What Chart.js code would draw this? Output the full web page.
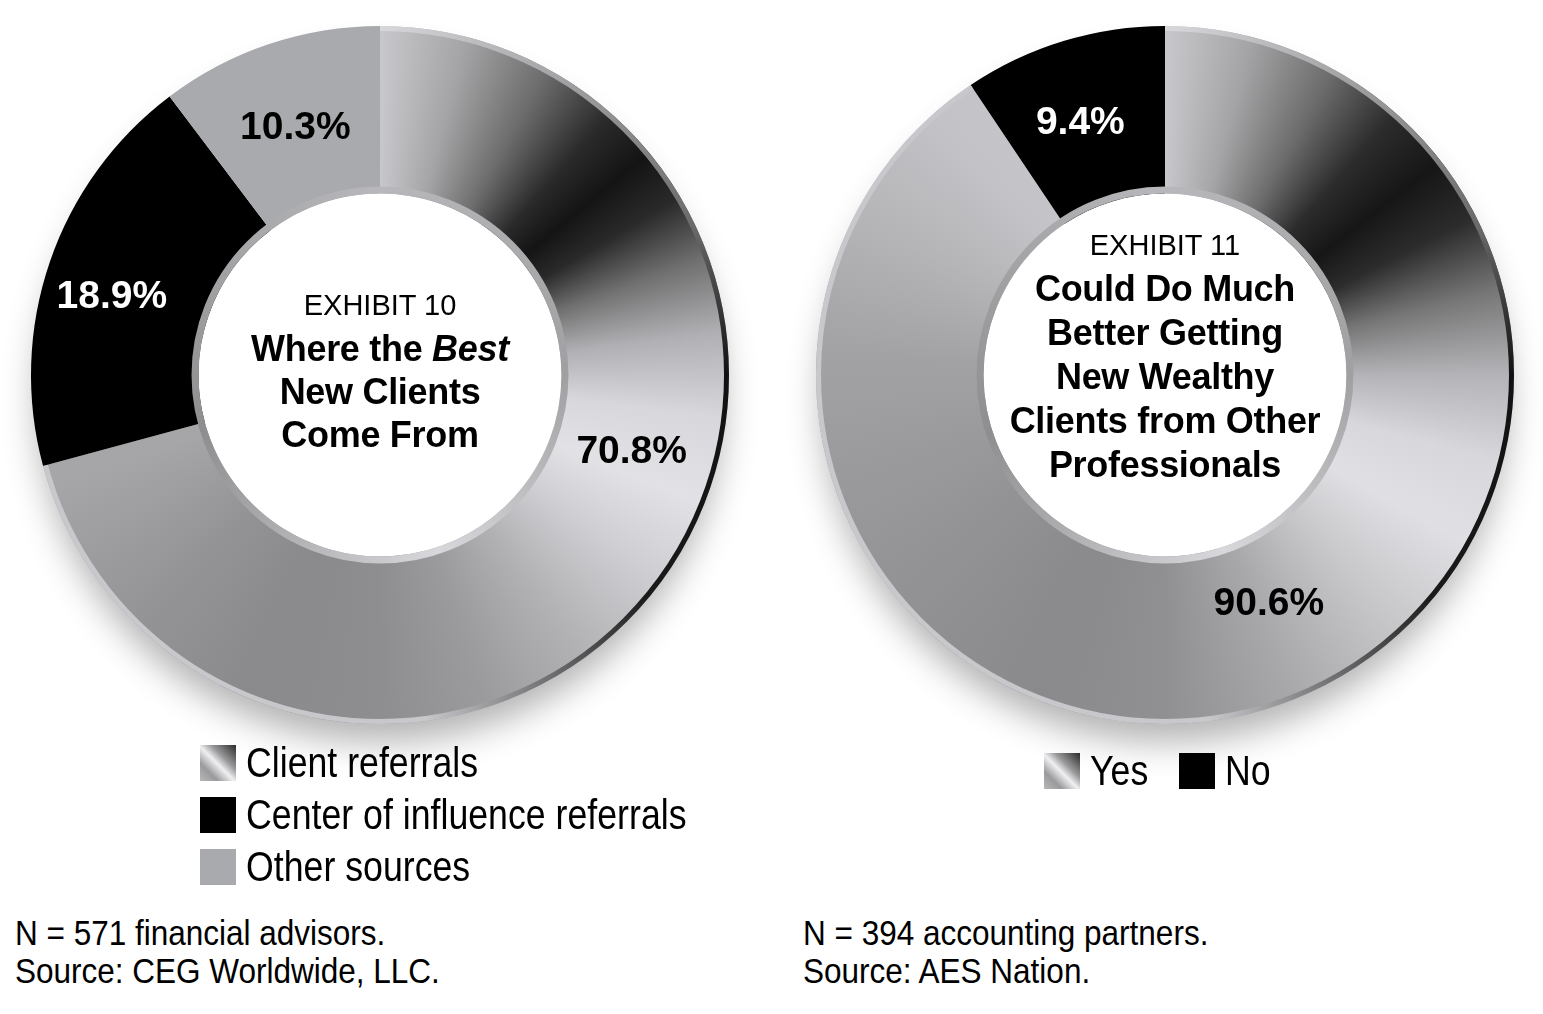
<!DOCTYPE html>
<html lang="en">
<head>
<meta charset="UTF-8" />
<title>Exhibits 10 and 11</title>
<script src="https://cdn.jsdelivr.net/npm/chart.js"></script>
<style>
    body {
        margin: 0;
        background: #fff;
        font-family: "Liberation Sans", Arial, sans-serif;
    }
    .page {
        position: relative;
        width: 1543px;
        height: 1014px;
        overflow: hidden;
    }
    .chartbox {
        position: absolute;
        top: 0;
        width: 760px;
        height: 780px;
    }
    .center-text {
        position: absolute;
        text-align: center;
        color: #000;
        line-height: 43px;
    }
    .center-text .exh {
        font-size: 29px;
        font-weight: 400;
    }
    .center-text .ttl {
        font-size: 36px;
        font-weight: 700;
        letter-spacing: -0.3px;
    }
    /* no narrow face installed, so squeeze the regular one */
    .sq {
        display: inline-block;
        transform-origin: 0 50%;
        white-space: nowrap;
    }
    .legend {
        position: absolute;
        font-size: 42px;
    }
    .legend .sq { transform: scaleX(0.85); }
    .legend .row {
        display: flex;
        align-items: center;
        height: 52px;
    }
    .swatch {
        width: 36px;
        height: 36px;
        margin-right: 10px;
        flex: none;
    }
    .note {
        position: absolute;
        top: 914px;
        font-size: 35px;
        line-height: 38px;
    }
    .note .sq { transform: scaleX(0.9); }
</style>
</head>
<body>
<div class="page">
    <div class="chartbox" style="left:0"><canvas id="chartLeft" width="760" height="780"></canvas></div>
    <div class="chartbox" style="left:785px"><canvas id="chartRight" width="760" height="780"></canvas></div>

    <div class="center-text" style="left:200px; top:284px; width:360px">
        <div class="exh">EXHIBIT 10</div>
        <div class="ttl">Where the <i>Best</i><br>New Clients<br>Come From</div>
    </div>
    <div class="center-text" style="left:970px; top:223px; width:390px; line-height:44px">
        <div class="exh">EXHIBIT 11</div>
        <div class="ttl">Could Do Much<br>Better Getting<br>New Wealthy<br>Clients from Other<br>Professionals</div>
    </div>

    <div id="legendLeft" class="legend" style="left:200px; top:737px"></div>
    <div id="legendRight" class="legend" style="left:1044px; top:745px; display:flex"></div>

    <div class="note" style="left:15px"><span class="sq">N = 571 financial advisors.</span><br><span class="sq">Source: CEG Worldwide, LLC.</span></div>
    <div class="note" style="left:803px"><span class="sq">N = 394 accounting partners.</span><br><span class="sq">Source: AES Nation.</span></div>
</div>

<script>
    // Exhibit 10
    const leftLabels = ['Client referrals', 'Center of influence referrals', 'Other sources'];
    const leftValues = [70.8, 18.9, 10.3];

    // Exhibit 11
    const rightLabels = ['Yes', 'No'];
    const rightValues = [90.6, 9.4];

    const metalSwatch = 'linear-gradient(225deg, #2a2a2a 0%, #9a9a9c 35%, #f0f0f2 52%, #9a9a9c 75%, #b8b8bb 100%)';

    // brushed metal look for the big slice
    const leftMetal = [
        [0, '#c8c8cc'], [0.04, '#a4a4a6'], [0.08, '#6c6c6c'], [0.115, '#2a2a2a'],
        [0.14, '#141414'], [0.165, '#2a2a2a'], [0.195, '#707070'], [0.23, '#b0b0b4'],
        [0.27, '#d8d8dc'], [0.31, '#e2e2e6'], [0.35, '#cfcfd3'], [0.40, '#b2b2b5'],
        [0.45, '#9b9b9d'], [0.50, '#8e8e90'], [0.56, '#8a8a8c'], [0.62, '#939395'],
        [0.70, '#a6a6a8'], [1, '#a6a6a8']
    ];
    const rightMetal = [
        [0, '#c8c8cc'], [0.04, '#a4a4a6'], [0.08, '#6c6c6c'], [0.115, '#2c2c2c'],
        [0.145, '#161616'], [0.175, '#2c2c2c'], [0.21, '#767676'], [0.25, '#b4b4b8'],
        [0.29, '#d8d8dc'], [0.33, '#e0e0e4'], [0.38, '#c8c8cb'], [0.44, '#a8a8aa'],
        [0.50, '#909092'], [0.56, '#8a8a8c'], [0.62, '#909092'], [0.70, '#9a9a9c'],
        [0.76, '#a2a2a4'], [0.83, '#b6b6b9'], [0.89, '#c4c4c8'], [1, '#c8c8cc']
    ];

    function metalFill(stops, colors) {
        return (c) => {
            if (c.dataIndex !== 0) return colors[c.dataIndex];
            const area = c.chart.chartArea;
            if (!area) return '#999';
            const cx = (area.left + area.right) / 2;
            const cy = (area.top + area.bottom) / 2;
            const g = c.chart.ctx.createConicGradient(-Math.PI / 2, cx, cy);
            stops.forEach(([t, col]) => g.addColorStop(t, col));
            return g;
        };
    }

    // shadow under the ring + bevel rims
    const ringDecor = {
        id: 'ringDecor',
        beforeDatasetsDraw(chart) {
            const arc = chart.getDatasetMeta(0).data[0];
            const { ctx } = chart;
            ctx.save();
            ctx.shadowColor = 'rgba(0,0,0,0.3)';
            ctx.shadowBlur = 35;
            ctx.shadowOffsetY = 24;
            ctx.fillStyle = '#fff';
            ctx.beginPath();
            ctx.arc(arc.x, arc.y, arc.outerRadius - 6, 0, Math.PI * 2);
            ctx.fill();
            ctx.restore();
        },
        afterDatasetsDraw(chart) {
            const first = chart.getDatasetMeta(0).data[0];
            const { ctx } = chart;
            ctx.save();
            // outer rim, only on the metal slice
            const og = ctx.createConicGradient(-Math.PI / 2, first.x, first.y);
            og.addColorStop(0, '#d8d8dc');
            og.addColorStop(0.18, '#6a6a6a');
            og.addColorStop(0.25, '#111');
            og.addColorStop(0.36, '#1a1a1a');
            og.addColorStop(0.48, '#c8c8cc');
            og.addColorStop(1, '#c8c8cc');
            ctx.strokeStyle = og;
            ctx.lineWidth = 5;
            ctx.beginPath();
            ctx.arc(first.x, first.y, first.outerRadius - 2.5, first.startAngle, first.endAngle);
            ctx.stroke();
            // inner rim all round the hole
            const ig = ctx.createConicGradient(-Math.PI / 2, first.x, first.y);
            ig.addColorStop(0, '#b8b8bc');
            ig.addColorStop(0.25, '#a0a0a2');
            ig.addColorStop(0.45, '#d8d8dc');
            ig.addColorStop(0.7, '#8e8e90');
            ig.addColorStop(1, '#b8b8bc');
            ctx.strokeStyle = ig;
            ctx.lineWidth = 7;
            ctx.beginPath();
            ctx.arc(first.x, first.y, first.innerRadius + 3.5, 0, Math.PI * 2);
            ctx.stroke();
            ctx.restore();
        }
    };

    // percentage labels inside the ring
    const pctLabels = {
        id: 'pctLabels',
        afterDatasetsDraw(chart, args, opts) {
            const { ctx } = chart;
            const vals = chart.data.datasets[0].data;
            chart.getDatasetMeta(0).data.forEach((arc, i) => {
                const a = arc.startAngle + (arc.endAngle - arc.startAngle) * opts.pos[i];
                const r = (arc.innerRadius + arc.outerRadius) / 2 + opts.shift[i];
                ctx.save();
                ctx.font = 'bold 39px "Liberation Sans", Arial, sans-serif';
                ctx.fillStyle = opts.colors[i];
                ctx.textAlign = 'center';
                ctx.textBaseline = 'middle';
                ctx.fillText(vals[i].toFixed(1) + '%', arc.x + r * Math.cos(a), arc.y + r * Math.sin(a));
                ctx.restore();
            });
        }
    };

    function makeDonut(id, labels, values, fill, labelOpts) {
        return new Chart(document.getElementById(id), {
            type: 'doughnut',
            data: {
                labels: labels,
                datasets: [{
                    data: values,
                    backgroundColor: fill,
                    borderWidth: 0,
                    hoverBorderWidth: 0,
                    hoverOffset: 0
                }]
            },
            options: {
                responsive: false,
                animation: false,
                events: [],
                cutout: '52%',
                layout: { padding: { left: 31, right: 31, top: 26, bottom: 56 } },
                plugins: {
                    legend: { display: false },
                    tooltip: { enabled: false },
                    pctLabels: labelOpts
                }
            },
            plugins: [ringDecor, pctLabels]
        });
    }

    makeDonut('chartLeft', leftLabels, leftValues,
        metalFill(leftMetal, [null, '#000000', '#a9aaad']),
        { pos: [0.42, 0.46, 0.49], shift: [-2, 14, -4], colors: ['#000', '#fff', '#000'] });

    makeDonut('chartRight', rightLabels, rightValues,
        metalFill(rightMetal, [null, '#000000']),
        { pos: [0.477, 0.45], shift: [-14, 0], colors: ['#000', '#fff'] });

    // legends
    function buildLegend(elId, labels, swatches, gap) {
        const el = document.getElementById(elId);
        labels.forEach((lab, i) => {
            const row = document.createElement('div');
            row.className = 'row';
            if (gap) row.style.marginRight = gap + 'px';
            const sw = document.createElement('div');
            sw.className = 'swatch';
            sw.style.background = swatches[i];
            const tx = document.createElement('span');
            tx.className = 'sq';
            tx.textContent = lab;
            row.appendChild(sw);
            row.appendChild(tx);
            el.appendChild(row);
        });
    }
    buildLegend('legendLeft', leftLabels, [metalSwatch, '#000', '#a9aaad']);
    buildLegend('legendRight', rightLabels, [metalSwatch, '#000'], 20);
</script>
</body>
</html>
